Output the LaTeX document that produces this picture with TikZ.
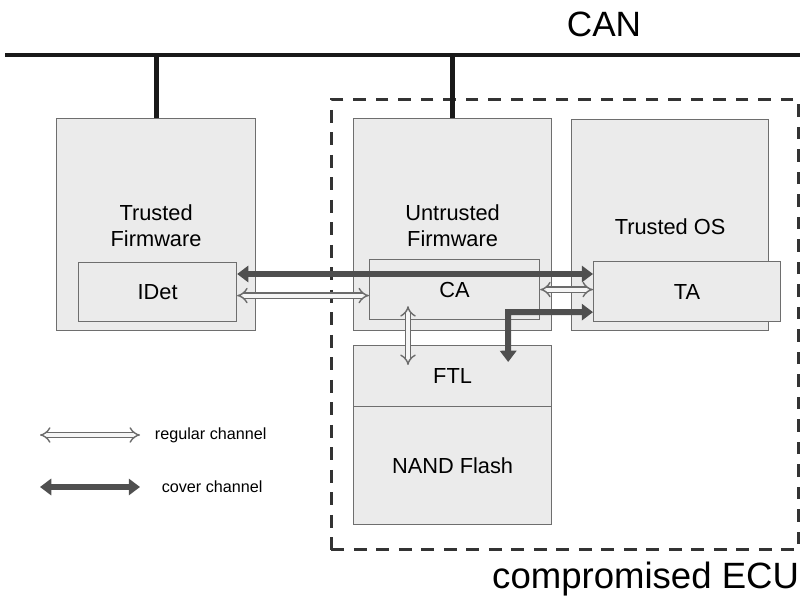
\documentclass[tikz,border=0pt]{standalone}
\usepackage{fontspec}
\setmainfont{Liberation Sans}
\usetikzlibrary{positioning,arrows.meta,calc}

\begin{document}
\begin{tikzpicture}
[x=0.025cm, y=-0.025cm,
 box/.style={draw=black!57, fill=black!8, line width=0.8pt, inner sep=0pt, anchor=north west,
   font=\fontsize{15.5}{18.5}\selectfont},
 lbl/.style={font=\fontsize{15.5}{18.5}\selectfont, align=center},
 legtxt/.style={font=\fontsize{11.5}{13}\selectfont},
 big/.style={font=\fontsize{25}{28}\selectfont},
 bus/.style={line width=3.5pt, black!90},
 regular/.style={draw=black!58, double=black!4, double distance=2.8pt, line width=1pt,
   {Implies[scale=1.35]}-{Implies[scale=1.35]}},
 cover/.style={draw=black!69, line width=4.3pt, line join=miter,
   {Triangle[length=8pt,width=11.5pt]}-{Triangle[length=8pt,width=11.5pt]}}]
\useasboundingbox (0,0) rectangle (804,603);

% bus
\coordinate (busL) at (5,55);
\coordinate (busR) at (800,55);
\draw[bus] (busL) -- (busR);
\node[big] (can) at (604,24) {CAN};

% compromised ECU
\node[draw=black!80, line width=2pt, dash pattern=on 9pt off 7pt, anchor=north west,
  minimum width=11.675cm, minimum height=11.25cm, inner sep=0pt] (ecu) at (330,98) {};
\node[big, font=\fontsize{26}{28}\selectfont, anchor=north east] (ecutxt) at (804,557) {compromised ECU};

% boxes
\node[box, minimum width=4.975cm, minimum height=5.3cm] (tfw) at (56,118) {};
\node[box, minimum width=3.95cm, minimum height=1.475cm] (idet) at (78,262) {IDet};
\node[box, minimum width=4.95cm, minimum height=5.3cm] (ufw) at (353,118) {};
\node[box, minimum width=4.25cm, minimum height=1.5cm] (ca) at (369,259) {CA};
\node[box, minimum width=4.925cm, minimum height=5.275cm] (tos) at (571,119) {};
\node[box, minimum width=4.675cm, minimum height=1.5cm] (ta) at (593,261) {TA};
\node[box, minimum width=4.95cm, minimum height=1.525cm] (ftl) at (353,345) {FTL};
\node[box, minimum width=4.95cm, minimum height=2.95cm] (nand) at (353,406) {NAND Flash};

\node[lbl] (tfwtxt) at ($(tfw.north)+(0,108)$) {Trusted\\Firmware};
\node[lbl] (ufwtxt) at ($(ufw.north)+(0,108)$) {Untrusted\\Firmware};
\node[lbl] (tostxt) at ($(tos.north)+(0,108)$) {Trusted OS};

% stubs to the bus
\draw[bus] (tfw.north) -- (tfw.north |- busL);
\draw[bus] (ufw.north) -- (ufw.north |- busL);

% channels
\draw[cover] ($(idet.north east)+(0,12)$) -- ($(ta.north west)+(0,13)$);
\draw[regular] ($(idet.east)+(0,3.5)$) -- ($(ca.west)+(0,6)$);
\draw[regular] (ca.east) -- (ca.east -| ta.west);
\draw[regular] ($(ca.south west)+(39,-14)$) -- ($(ftl.north west)+(55,20)$);
\coordinate (bend) at ($(ca.south east)+(-32,-8)$);
\draw[cover] (ta.west |- bend) -- (bend) -- ($(ftl.north east)+(-44,17)$);

% legend
\coordinate (regA) at (40,435);
\coordinate (regB) at (140,435);
\coordinate (covA) at (40,487);
\coordinate (covB) at (140,487);
\draw[regular] (regA) -- (regB);
\draw[cover] (covA) -- (covB);
\node[legtxt, right=2.5mm of regB] (regtxt) {regular channel};
\node[legtxt, right=4.2mm of covB] (covtxt) {cover channel};
\end{tikzpicture}
\end{document}
